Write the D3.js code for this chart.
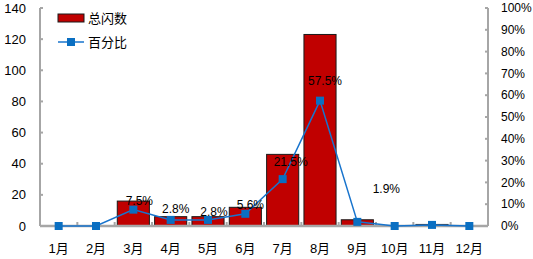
<!DOCTYPE html>
<html lang="zh">
<head>
<meta charset="utf-8">
<title>总闪数</title>
<script src="https://cdn.jsdelivr.net/npm/d3@7"></script>
<style>
  body { margin: 0; background: #fff; }
  text { font-family: "Liberation Sans", "Noto Sans CJK SC", sans-serif; }
</style>
</head>
<body>
<script>
var months = ["1月", "2月", "3月", "4月", "5月", "6月", "7月", "8月", "9月", "10月", "11月", "12月"];
var counts = [0, 0, 16, 6, 6, 12, 46, 123, 4, 0, 1, 0];
var percents = [0, 0, 7.5, 2.8, 2.8, 5.6, 21.5, 57.5, 1.9, 0, 0.5, 0];
var showLabel = [false, false, true, true, true, true, true, true, true, false, false, false];
var leftTicks = [0, 20, 40, 60, 80, 100, 120, 140];
var rightTicks = [0, 10, 20, 30, 40, 50, 60, 70, 80, 90, 100];

var w = 533, h = 259;
var plotLeft = 40, plotRight = 488, plotTop = 8, plotBottom = 226;
// hand-placed label nudges (px) as in the original chart
var labelDx = [0, 0, 6, 5, 6, 5, 8, 5, 29, 0, 0, 0];
var labelLift = [0, 0, 9, 11, 8, 9, 17, 20, 33, 0, 0, 0];

var svg = d3.select("body").append("svg")
    .attr("width", w)
    .attr("height", h);

var x = d3.scaleBand().domain(months).range([plotLeft, plotRight]).paddingInner(0.14).paddingOuter(0.07);
var xb = d3.scaleBand().domain(months).range([plotLeft, plotRight]);
var yL = d3.scaleLinear().domain([0, 140]).range([plotBottom, plotTop]);
var yR = d3.scaleLinear().domain([0, 100]).range([plotBottom, plotTop]);

var axisColor = "#a6a6a6";

// bars
svg.selectAll("rect.bar")
    .data(counts)
    .enter()
    .append("rect")
    .attr("class", "bar")
    .attr("x", function(d, i) { return x(months[i]); })
    .attr("y", function(d) { return yL(d); })
    .attr("width", x.bandwidth())
    .attr("height", function(d) { return plotBottom - yL(d); })
    .attr("fill", "#c00000")
    .attr("stroke", "#1a1a1a")
    .attr("stroke-width", 1);

// left axis
var gl = svg.append("g").attr("transform", "translate(" + plotLeft + ",0)");
gl.append("line").attr("x1", 0).attr("x2", 0).attr("y1", plotTop).attr("y2", plotBottom)
    .attr("stroke", axisColor).attr("stroke-width", 2);
gl.selectAll("line.tk").data(leftTicks).enter().append("line")
    .attr("x1", 0).attr("x2", 3)
    .attr("y1", function(d) { return yL(d); }).attr("y2", function(d) { return yL(d); })
    .attr("stroke", axisColor).attr("stroke-width", 2);
gl.selectAll("text").data(leftTicks).enter().append("text")
    .attr("x", -14).attr("y", function(d) { return yL(d); })
    .attr("dy", "0.35em").attr("text-anchor", "end")
    .attr("font-size", "13px").attr("fill", "#000")
    .text(function(d) { return d; });

// right axis
var gr = svg.append("g").attr("transform", "translate(" + plotRight + ",0)");
gr.append("line").attr("x1", 0).attr("x2", 0).attr("y1", plotTop).attr("y2", plotBottom)
    .attr("stroke", axisColor).attr("stroke-width", 2);
gr.selectAll("line.tk").data(rightTicks).enter().append("line")
    .attr("x1", 0).attr("x2", -3)
    .attr("y1", function(d) { return yR(d); }).attr("y2", function(d) { return yR(d); })
    .attr("stroke", axisColor).attr("stroke-width", 2);
gr.selectAll("text").data(rightTicks).enter().append("text")
    .attr("x", 13).attr("y", function(d) { return yR(d); })
    .attr("dy", "0.35em").attr("text-anchor", "start")
    .attr("font-size", "12px").attr("fill", "#000")
    .text(function(d) { return d + "%"; });

// bottom axis
svg.append("line").attr("x1", plotLeft).attr("x2", plotRight).attr("y1", plotBottom).attr("y2", plotBottom)
    .attr("stroke", axisColor).attr("stroke-width", 2.5);
svg.selectAll("line.xt").data(months.slice(1)).enter().append("line")
    .attr("x1", function(d) { return xb(d); }).attr("x2", function(d) { return xb(d); })
    .attr("y1", plotBottom).attr("y2", plotBottom - 4)
    .attr("stroke", axisColor).attr("stroke-width", 2);
svg.selectAll("text.xl").data(months).enter().append("text")
    .attr("x", function(d) { return xb(d) + xb.bandwidth() / 2; })
    .attr("y", 248).attr("dy", "0.35em").attr("text-anchor", "middle")
    .attr("font-size", "13px").attr("fill", "#000")
    .text(function(d) { return d; });

// percent line
var line = d3.line()
    .x(function(d, i) { return xb(months[i]) + xb.bandwidth() / 2; })
    .y(function(d) { return yR(d); });
svg.append("path").datum(percents)
    .attr("d", line).attr("fill", "none")
    .attr("stroke", "#1874cd").attr("stroke-width", 1.5);
svg.selectAll("rect.pt").data(percents).enter().append("rect")
    .attr("x", function(d, i) { return xb(months[i]) + xb.bandwidth() / 2 - 4; })
    .attr("y", function(d) { return yR(d) - 4; })
    .attr("width", 8).attr("height", 8)
    .attr("fill", "#0a6fc2");

// data labels near the points
percents.forEach(function(d, i) {
    if (!showLabel[i]) return;
    svg.append("text")
        .attr("x", xb(months[i]) + xb.bandwidth() / 2 + labelDx[i])
        .attr("y", yR(d) - labelLift[i]).attr("dy", "0.35em")
        .attr("text-anchor", "middle")
        .attr("font-size", "12px").attr("fill", "#000")
        .text(d.toFixed(1) + "%");
});

// legend
svg.append("rect").attr("x", 58).attr("y", 14).attr("width", 26).attr("height", 8)
    .attr("fill", "#c00000").attr("stroke", "#1a1a1a");
svg.append("text").attr("x", 88).attr("y", 18).attr("dy", "0.35em")
    .attr("font-size", "13px").attr("fill", "#000").text("总闪数");
svg.append("line").attr("x1", 58).attr("x2", 84).attr("y1", 42).attr("y2", 42)
    .attr("stroke", "#1874cd").attr("stroke-width", 1.5);
svg.append("rect").attr("x", 67).attr("y", 38).attr("width", 8).attr("height", 8)
    .attr("fill", "#0a6fc2");
svg.append("text").attr("x", 88).attr("y", 42).attr("dy", "0.35em")
    .attr("font-size", "13px").attr("fill", "#000").text("百分比");
</script>
</body>
</html>
